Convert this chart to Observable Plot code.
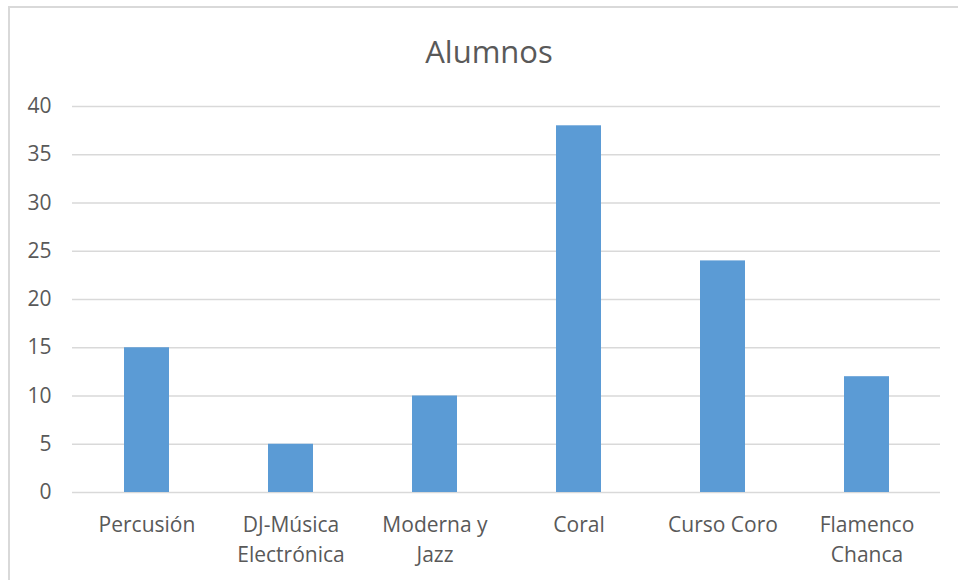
<!DOCTYPE html>
<html>
<head>
<meta charset="utf-8">
<script src="https://cdn.jsdelivr.net/npm/d3@7"></script>
<script src="https://cdn.jsdelivr.net/npm/@observablehq/plot@0.6"></script>
<style>
  html, body { margin: 0; padding: 0; background: #fff; overflow: hidden; }
  #wrap { position: relative; width: 958px; height: 580px; overflow: hidden; }
  #frame { position: absolute; left: 8px; top: 6px; width: 1200px; height: 1200px; border: 2px solid #D9D9D9; box-sizing: border-box; }
  #title { position: absolute; left: 0; top: 36px; width: 978px; text-align: center; font-family: "Open Sans", sans-serif; font-size: 31px; color: #595959; line-height: 1; }
  #chart { position: absolute; left: 0; top: 0; }
</style>
</head>
<body>
<div id="wrap">
  <div id="frame"></div>
  <div id="chart"></div>
  <div id="title">Alumnos</div>
</div>
<script>
const categories = ["Percusión", "DJ-Música Electrónica", "Moderna y Jazz", "Coral", "Curso Coro", "Flamenco Chanca"];
const values = [15, 5, 10, 38, 24, 12];
const xTickLabels = ["Percusión", "DJ-Música\nElectrónica", "Moderna y\nJazz", "Coral", "Curso Coro", "Flamenco\nChanca"];
const yTicks = [0, 5, 10, 15, 20, 25, 30, 35, 40];

const data = categories.map((c, i) => ({category: c, value: values[i]}));
const labelOf = new Map(categories.map((c, i) => [c, xTickLabels[i]]));

const chart = Plot.plot({
  width: 958,
  height: 580,
  marginLeft: 72,
  marginRight: 18,
  marginTop: 106,
  marginBottom: 88,
  style: { fontFamily: "Open Sans, sans-serif", fontSize: "21px", color: "#595959", background: "transparent" },
  x: { domain: categories, paddingInner: 0.69, paddingOuter: 0.345, label: null },
  y: { domain: [0, 40], label: null },
  marks: [
    Plot.ruleY(yTicks, { stroke: "#D9D9D9", strokeWidth: 1.5, strokeOpacity: 1 }),
    Plot.barY(data, { x: "category", y: "value", fill: "#5B9BD5" }),
    Plot.axisY({ ticks: yTicks, tickSize: 0, tickPadding: 21, label: null, fill: "#595959", fontSize: 21 }),
    Plot.axisX({ tickSize: 0, tickPadding: 19, label: null, tickFormat: d => labelOf.get(d), lineHeight: 1.4, fill: "#595959", fontSize: 21 })
  ]
});
document.getElementById("chart").appendChild(chart);
</script>
</body>
</html>
